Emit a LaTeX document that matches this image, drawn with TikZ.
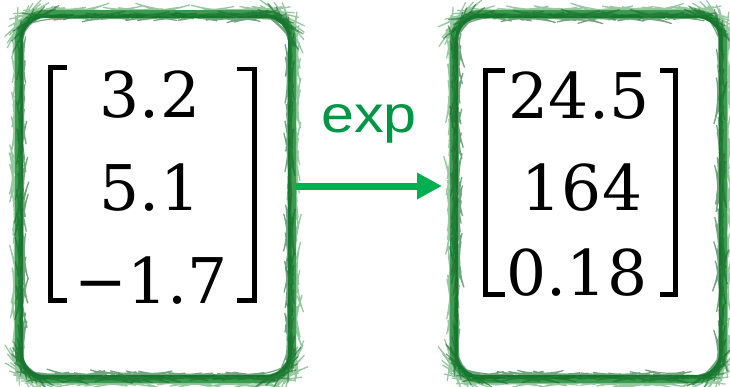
\documentclass[tikz,border=0pt]{standalone}
\usepackage{fontspec}
\usetikzlibrary{arrows.meta,decorations.pathmorphing}
\definecolor{boxgreen}{RGB}{28,140,56}
\definecolor{boxlight}{RGB}{80,165,95}
\definecolor{arrowgreen}{RGB}{0,176,80}
\definecolor{labelgreen}{RGB}{0,150,70}
\newfontfamily\labelfont{Liberation Sans}
\newfontfamily\numfont{DejaVu Serif}
\newcommand\myw[1]{\scalebox{1.14}[1]{#1}}
\tikzset{
  vecbox/.style={rectangle, draw=boxgreen, line width=8pt, rounded corners=26pt,
    outer sep=0pt, inner sep=0pt, fill=white},
  rough/.style={decorate, decoration={random steps, segment length=4pt, amplitude=0.7pt},
    line width=1.2pt},
  entry/.style={anchor=base, inner sep=0pt, font=\numfont\fontsize{63}{63}\selectfont},
  bracket/.style={line width=4.5pt, miter limit=10},
  maparrow/.style={line width=7pt, arrowgreen, -{Triangle[length=25pt,width=25pt]}},
  maplabel/.style={anchor=base, inner sep=0pt, text=labelgreen, font=\labelfont\fontsize{52}{52}\selectfont}
}
\begin{document}
\begin{tikzpicture}[x=1pt,y=-1pt]
\pgfmathsetseed{7}
\useasboundingbox (0,0) rectangle (730,386);
\fill[white] (0,0) rectangle (730,386);
% boxes
\node[vecbox, minimum width=273pt, minimum height=365pt] (lbox) at (155.5,196.5) {};
\node[vecbox, minimum width=269pt, minimum height=365pt] (rbox) at (588.5,196.5) {};
% brush texture
\foreach \b in {lbox,rbox}{
  \draw[rough, boxlight, opacity=0.6, rounded corners=26pt] ([shift={(-2.5,-2.5)}]\b.north west) rectangle ([shift={(2.5,2.5)}]\b.south east);
  \draw[rough, boxgreen!75!black, opacity=0.6, rounded corners=24pt] ([shift={(2.5,2.5)}]\b.north west) rectangle ([shift={(-2.5,-2.5)}]\b.south east);
}
% left vector
\draw[bracket] (67,67.5) -- (50.5,67.5) -- (50.5,300.5) -- (67,300.5);
\draw[bracket] (237,69) -- (254.5,69) -- (254.5,300.5) -- (237,300.5);
\node[entry] (l1) at (150,117) {3.2};
\node[entry] (l2) at (150,210) {5.1};
\node[entry] (l3) at (151,303) {−1.7};
% right vector
\draw[bracket] (505,70.5) -- (485.5,70.5) -- (485.5,294.5) -- (505,294.5);
\draw[bracket] (660,70.5) -- (675.5,70.5) -- (675.5,294.5) -- (660,294.5);
\node[entry] (r1) at (579,118) {24.5};
\node[entry] (r2) at (582,210) {164};
\node[entry] (r3) at (577,295) {0.18};
% arrow
\draw[maparrow, shorten <=4pt, shorten >=12pt] ([yshift=10.5pt]lbox.east) -- ([yshift=10.5pt]rbox.west);
\node[maplabel] (exp) at (369,132) {\myw{exp}};
\end{tikzpicture}
\end{document}
